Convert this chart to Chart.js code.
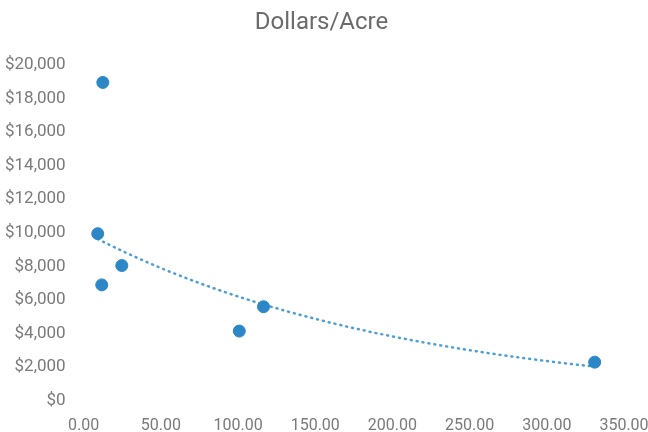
<!DOCTYPE html>
<html>
<head>
<meta charset="utf-8">
<script src="https://cdn.jsdelivr.net/npm/chart.js@4"></script>
<style>
  html, body { margin: 0; padding: 0; background: #fff; }
  #wrap { width: 648px; height: 432px; }
</style>
</head>
<body>
<div id="wrap"><canvas id="myChart"></canvas></div>
<script>
// acres vs dollars per acre
const acres = [12.4, 9.1, 11.7, 24.7, 100.8, 116.5, 331];
const dollarsPerAcre = [18950, 9950, 6900, 8050, 4150, 5600, 2300];
const xTicks = [0, 50, 100, 150, 200, 250, 300, 350];
const yTicks = [0, 2000, 4000, 6000, 8000, 10000, 12000, 14000, 16000, 18000, 20000];

const points = acres.map((x, i) => ({ x: x, y: dollarsPerAcre[i] }));

// exponential trendline (least squares on ln y), like Excel does
const n = acres.length;
const lny = dollarsPerAcre.map(v => Math.log(v));
const mx = acres.reduce((a, b) => a + b, 0) / n;
const my = lny.reduce((a, b) => a + b, 0) / n;
let sxy = 0, sxx = 0;
for (let i = 0; i < n; i++) {
    sxy += (acres[i] - mx) * (lny[i] - my);
    sxx += (acres[i] - mx) * (acres[i] - mx);
}
const b = sxy / sxx;
const a = Math.exp(my - b * mx);
const xMin = Math.min(...acres), xMax = Math.max(...acres);
const trend = [];
for (let k = 0; k <= 60; k++) {
    const x = xMin + (xMax - xMin) * k / 60;
    trend.push({ x: x, y: a * Math.exp(b * x) });
}

const ctx = document.getElementById("myChart").getContext("2d");

const myChart = new Chart(ctx, {
    type: "scatter",
    data: {
        datasets: [
            {
                label: "Dollars/Acre",
                data: points,
                backgroundColor: "#2b87c6",
                borderColor: "#2b87c6",
                pointRadius: 6,
                order: 1,
            },
            {
                label: "Trend",
                data: trend,
                type: "line",
                showLine: true,
                borderColor: "#4a9fd6",
                borderWidth: 2.5,
                borderDash: [1, 5],
                borderCapStyle: "round",
                pointRadius: 0,
                fill: false,
                order: 2,
            },
        ],
    },
    options: {
        responsive: true,
        maintainAspectRatio: false,
        animation: false,
        layout: { padding: { left: -5, right: 0, top: 8, bottom: -12 } },
        scales: {
            x: {
                type: "linear",
                min: 0,
                max: 350,
                afterBuildTicks: (axis) => { axis.ticks = xTicks.map(v => ({ value: v })); },
                afterFit: (axis) => { axis.paddingRight = 24; },
                grid: { display: false },
                border: { display: false },
                ticks: {
                    color: "#7a7a7a",
                    font: { family: "Roboto", size: 16 },
                    padding: 8,
                    maxRotation: 0,
                    callback: (v) => v.toFixed(2),
                },
            },
            y: {
                min: 0,
                max: 20000,
                afterBuildTicks: (axis) => { axis.ticks = yTicks.map(v => ({ value: v })); },
                grid: { display: false },
                border: { display: false },
                ticks: {
                    color: "#7a7a7a",
                    font: { family: "Roboto", size: 17 },
                    padding: 10,
                    callback: (v) => "$" + v.toLocaleString("en-US"),
                },
            },
        },
        plugins: {
            legend: { display: false },
            tooltip: { enabled: false },
            title: {
                display: true,
                text: "Dollars/Acre",
                color: "#6b6b6b",
                font: { family: "Roboto", size: 24, weight: "normal" },
                padding: { top: 1, bottom: 27 },
            },
        },
    },
});
</script>
</body>
</html>
